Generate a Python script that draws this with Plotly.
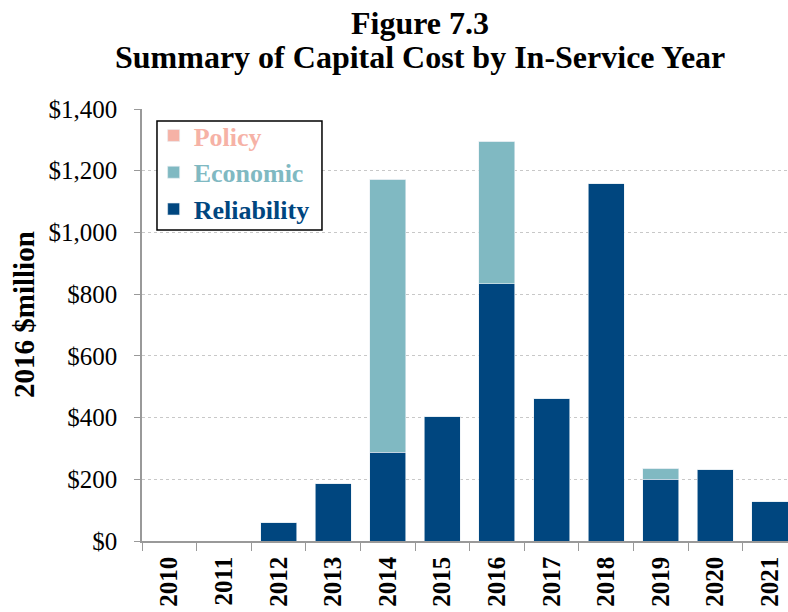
import plotly.graph_objects as go

years = ["2010", "2011", "2012", "2013", "2014", "2015", "2016", "2017", "2018", "2019", "2020", "2021"]
reliability = [0, 0, 60, 185, 288, 405, 833, 463, 1157, 200, 232, 127]
economic = [0, 0, 0, 0, 885, 0, 463, 0, 0, 36, 0, 0]
policy = [0, 0, 0, 0, 0, 0, 0, 0, 0, 0, 0, 0]

title_lines = ["Figure 7.3", "Summary of Capital Cost by In-Service Year"]
y_title = "2016 $million"

c_rel = "#00467F"
c_eco = "#80B9C2"
c_pol = "#F6B2A6"

FONT = "Liberation Serif"

fig = go.Figure()
fig.add_trace(go.Bar(x=years, y=reliability, name=f"<span style='color:{c_rel}'><b>Reliability</b></span>",
                     marker=dict(color=c_rel, line=dict(color="#e8eef3", width=0.6))))
fig.add_trace(go.Bar(x=years, y=economic, name=f"<span style='color:{c_eco}'><b>Economic</b></span>",
                     marker=dict(color=c_eco, line=dict(color="#e8eef3", width=0.6))))
fig.add_trace(go.Bar(x=years, y=policy, name=f"<span style='color:{c_pol}'><b>Policy</b></span>",
                     marker=dict(color=c_pol, line=dict(color="#e8eef3", width=0.6))))

fig.update_layout(
    width=788, height=612,
    barmode="stack", bargap=0.34,
    plot_bgcolor="white", paper_bgcolor="white",
    margin=dict(l=142, r=0, t=109, b=71),
    font=dict(family=FONT, color="black", size=20),
    legend=dict(x=0.018, y=0.993, xanchor="left", yanchor="top",
                traceorder="reversed", bgcolor="rgba(0,0,0,0)", borderwidth=0,
                font=dict(family=FONT, size=26), itemwidth=30, tracegroupgap=0),
    showlegend=True,
)
# title lines
for txt, yp in zip(title_lines, [1.199, 1.12]):
    fig.add_annotation(text=f"<b>{txt}</b>", xref="paper", yref="paper", x=0.43, y=yp,
                       xanchor="center", yanchor="middle", showarrow=False,
                       font=dict(family=FONT, size=32, color="black"))
# y-axis title
fig.add_annotation(text=f"<b>{y_title}</b>", xref="paper", yref="paper", x=-0.1827, y=0.5255,
                   xanchor="center", yanchor="middle", textangle=-90, showarrow=False,
                   font=dict(family=FONT, size=29, color="black"))
# legend frame
fig.add_shape(type="rect", xref="paper", yref="paper", x0=0.0232, x1=0.2786, y0=0.72, y1=0.972,
              line=dict(color="black", width=1.5), fillcolor="white", layer="above")

fig.update_xaxes(type="category", range=[-0.5, 11.33], showline=True, linecolor="#999999", linewidth=1.5,
                 ticks="outside", tickson="boundaries", ticklen=8, tickcolor="#999999",
                 tickangle=-90, tickfont=dict(family=FONT, size=25, color="black"),
                 ticklabelstandoff=4, showgrid=False)
fig.update_xaxes(tickprefix="<b>", ticksuffix="</b>")
fig.update_yaxes(range=[0, 1400], dtick=200, tickprefix="$", tickformat=",",
                 showline=True, linecolor="#999999", linewidth=1.5,
                 ticks="outside", ticklen=6, tickcolor="#999999",
                 showgrid=True, gridcolor="#c8c8c8", griddash="dot", gridwidth=1,
                 tickfont=dict(family=FONT, size=25, color="black"),
                 ticklabelstandoff=12, zeroline=False)

fig.write_html("out.html")
